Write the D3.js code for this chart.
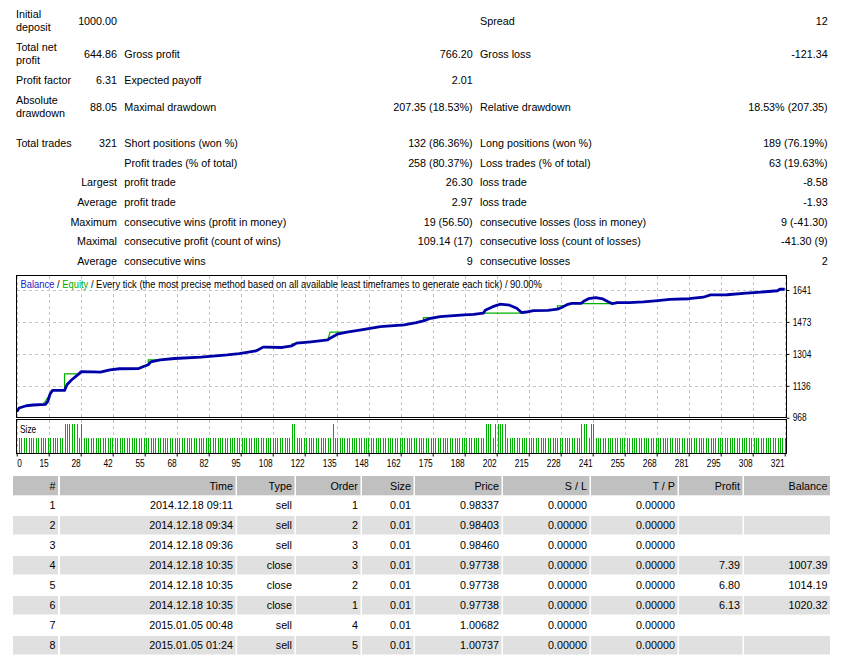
<!DOCTYPE html>
<html>
<head>
<meta charset="utf-8">
<script src="https://cdn.jsdelivr.net/npm/d3@7"></script>
<style>
body { margin: 0; background: #fff; }
svg text { font-family: "Liberation Sans", Arial, sans-serif; font-size: 10.75px; fill: #000; }
svg .chart-text { font-size: 10.2px; }
</style>
</head>
<body>
<svg id="report" width="861" height="655"></svg>
<script>
// summary block, one entry per row: label, value, label, value, label, value
const summaryRows = [
    ["Initial\ndeposit", "1000.00", "", "", "Spread", "12"],
    ["Total net\nprofit", "644.86", "Gross profit", "766.20", "Gross loss", "-121.34"],
    ["Profit factor", "6.31", "Expected payoff", "2.01", "", ""],
    ["Absolute\ndrawdown", "88.05", "Maximal drawdown", "207.35 (18.53%)", "Relative drawdown", "18.53% (207.35)"],
    ["Total trades", "321", "Short positions (won %)", "132 (86.36%)", "Long positions (won %)", "189 (76.19%)"],
    ["", "", "Profit trades (% of total)", "258 (80.37%)", "Loss trades (% of total)", "63 (19.63%)"],
    ["", "Largest", "profit trade", "26.30", "loss trade", "-8.58"],
    ["", "Average", "profit trade", "2.97", "loss trade", "-1.93"],
    ["", "Maximum", "consecutive wins (profit in money)", "19 (56.50)", "consecutive losses (loss in money)", "9 (-41.30)"],
    ["", "Maximal", "consecutive profit (count of wins)", "109.14 (17)", "consecutive loss (count of losses)", "-41.30 (9)"],
    ["", "Average", "consecutive wins", "9", "consecutive losses", "2"]
]

// balance / equity curve (trade number, money)
const balanceTrade = [0, 1, 4, 7, 12, 13, 14, 15, 20, 21, 23, 26, 27, 32, 35, 39, 43, 51, 53, 55, 56, 60, 66, 77, 88, 93, 100, 103, 104, 111, 115, 117, 123, 130, 131, 134, 138, 144, 152, 162, 167, 170, 173, 177, 187, 191, 195, 196, 199, 202, 206, 209, 211, 213, 216, 222, 226, 228, 230, 232, 236, 237, 239, 242, 245, 247, 249, 251, 256, 262, 268, 273, 281, 287, 290, 297, 305, 311, 318, 319, 321]
const balance = [1000, 1019, 1031, 1035, 1038, 1054, 1094, 1112, 1112, 1142, 1168, 1199, 1211, 1210, 1208, 1220, 1226, 1227, 1238, 1247, 1262, 1273, 1280, 1287, 1299, 1306, 1320, 1340, 1340, 1338, 1347, 1361, 1368, 1378, 1387, 1408, 1419, 1431, 1448, 1457, 1469, 1478, 1492, 1501, 1510, 1513, 1519, 1536, 1553, 1566, 1561, 1545, 1522, 1525, 1532, 1534, 1540, 1550, 1564, 1571, 1571, 1582, 1595, 1601, 1594, 1580, 1569, 1574, 1574, 1578, 1585, 1592, 1595, 1603, 1615, 1616, 1624, 1630, 1637, 1646, 1645]
const equityTrade = [0, 1, 4, 7, 11, 12, 14, 15, 20, 20, 26, 27, 32, 35, 39, 43, 51, 53, 55, 55, 60, 66, 77, 88, 93, 100, 103, 111, 115, 115, 117, 123, 130, 131, 138, 144, 152, 162, 167, 170, 170, 173, 177, 187, 191, 195, 211, 213, 216, 222, 226, 226, 230, 230, 232, 236, 249, 251, 256, 262, 268, 273, 281, 287, 290, 297, 305, 311, 318, 319, 321]
const equity = [1000, 1019, 1031, 1035, 1038, 1056, 1094, 1112, 1112, 1199, 1199, 1211, 1210, 1208, 1220, 1226, 1227, 1238, 1247, 1273, 1273, 1280, 1287, 1299, 1306, 1320, 1340, 1338, 1347, 1357, 1361, 1368, 1378, 1419, 1419, 1431, 1448, 1457, 1469, 1478, 1495, 1495, 1501, 1510, 1513, 1519, 1519, 1525, 1532, 1534, 1540, 1558, 1558, 1564, 1571, 1569, 1569, 1574, 1574, 1578, 1585, 1592, 1595, 1603, 1615, 1616, 1624, 1630, 1637, 1646, 1645]

// lot size of trades 1..321
const lotSizes = [
    0.01,0.01,0.01,0.01,0.01,0.01,0.01,0.01,0.01,0.01,0.01,0.01,0.01,0.01,0.01,0.01,0.01,0.01,0.01,0.02,
    0.02,0.02,0.02,0.02,0.02,0.01,0.02,0.01,0.01,0.01,0.01,0.01,0.01,0.01,0.01,0.01,0.01,0.01,0.01,0.01,
    0.01,0.01,0.01,0.01,0.01,0.01,0.01,0.01,0.01,0.01,0.01,0.01,0.01,0.01,0.01,0.01,0.01,0.01,0.01,0.01,
    0.01,0.01,0.01,0.01,0.01,0.01,0.01,0.01,0.01,0.01,0.01,0.01,0.01,0.01,0.01,0.01,0.01,0.01,0.01,0.01,
    0.01,0.01,0.01,0.01,0.01,0.01,0.01,0.01,0.01,0.01,0.01,0.01,0.01,0.01,0.01,0.01,0.01,0.01,0.01,0.01,
    0.01,0.01,0.01,0.01,0.01,0.01,0.01,0.01,0.01,0.01,0.01,0.01,0.01,0.01,0.02,0.02,0.01,0.01,0.01,0.01,
    0.01,0.01,0.01,0.01,0.01,0.01,0.01,0.01,0.01,0.01,0.01,0.02,0.01,0.01,0.01,0.01,0.01,0.01,0.01,0.01,
    0.01,0.01,0.01,0.01,0.01,0.01,0.01,0.01,0.01,0.01,0.01,0.01,0.01,0.01,0.01,0.01,0.01,0.01,0.01,0.01,
    0.01,0.01,0.01,0.01,0.01,0.01,0.01,0.01,0.01,0.01,0.01,0.01,0.01,0.01,0.01,0.01,0.01,0.01,0.01,0.01,
    0.01,0.01,0.01,0.01,0.01,0.01,0.01,0.01,0.01,0.01,0.01,0.01,0.01,0.01,0.01,0.02,0.02,0.02,0.01,0.02,
    0.02,0.02,0.02,0.02,0.01,0.01,0.01,0.01,0.01,0.01,0.01,0.01,0.01,0.01,0.01,0.01,0.01,0.01,0.01,0.01,
    0.01,0.01,0.01,0.01,0.01,0.01,0.01,0.01,0.01,0.01,0.01,0.01,0.01,0.01,0.01,0.02,0.02,0.02,0.01,0.02,
    0.02,0.01,0.01,0.01,0.01,0.01,0.01,0.01,0.01,0.01,0.01,0.01,0.01,0.01,0.01,0.01,0.01,0.01,0.01,0.01,
    0.01,0.01,0.01,0.01,0.01,0.01,0.01,0.01,0.01,0.01,0.01,0.01,0.01,0.01,0.01,0.01,0.01,0.01,0.01,0.01,
    0.01,0.01,0.01,0.01,0.01,0.01,0.01,0.01,0.01,0.01,0.01,0.01,0.01,0.01,0.01,0.01,0.01,0.01,0.01,0.01,
    0.01,0.01,0.01,0.01,0.01,0.01,0.01,0.01,0.01,0.01,0.01,0.01,0.01,0.01,0.01,0.01,0.01,0.01,0.01,0.01,
    0.01
]

const xTickLabels = ["0", "15", "28", "42", "55", "68", "82", "95", "108", "122", "135", "148", "162", "175", "188", "202", "215", "228", "241", "255", "268", "281", "295", "308", "321"]
const yTickValues = [968, 1136, 1304, 1473, 1641]
const totalTrades = 321

// deals table
const tableHeads = ["#", "Time", "Type", "Order", "Size", "Price", "S / L", "T / P", "Profit", "Balance"]
const dealNo = [1, 2, 3, 4, 5, 6, 7, 8]
const dealTime = ["2014.12.18 09:11", "2014.12.18 09:34", "2014.12.18 09:36", "2014.12.18 10:35", "2014.12.18 10:35", "2014.12.18 10:35", "2015.01.05 00:48", "2015.01.05 01:24"]
const dealType = ["sell", "sell", "sell", "close", "close", "close", "sell", "sell"]
const dealOrder = [1, 2, 3, 3, 2, 1, 4, 5]
const dealSize = [0.01, 0.01, 0.01, 0.01, 0.01, 0.01, 0.01, 0.01]
const dealPrice = [0.98337, 0.98403, 0.98460, 0.97738, 0.97738, 0.97738, 1.00682, 1.00737]
const dealSL = [0, 0, 0, 0, 0, 0, 0, 0]
const dealTP = [0, 0, 0, 0, 0, 0, 0, 0]
const dealProfit = [null, null, null, 7.39, 6.80, 6.13, null, null]
const dealBalance = [null, null, null, 1007.39, 1014.19, 1020.32, null, null]

const svg = d3.select("#report")
const narrowDigits = 0.82 // axis digits are narrow in the original face
const narrowText = 0.92   // letters of the chart caption a bit less so

// ---- summary block ----
const colX = [16, 117, 124.3, 472.7, 480, 827.7]
const colAnchor = ["start", "end", "start", "end", "start", "end"]
const rowBase = [25, 57.7, 83.7, 111, 146.7, 166.5, 186.2, 206, 225.5, 245.2, 264.7]

summaryRows.forEach((row, r) => {
    row.forEach((cell, c) => {
        if (!cell) return
        const t = svg.append("text")
            .attr("x", colX[c])
            .attr("y", rowBase[r])
            .attr("text-anchor", colAnchor[c])
        const lines = cell.split("\n")
        if (lines.length == 1) { t.text(cell); return }
        lines.forEach((ln, k) => {
            t.append("tspan").attr("x", colX[c]).attr("y", rowBase[r] - 6.7 + k * 12.5).text(ln)
        })
    })
})

// ---- balance chart ----
const x = d3.scaleLinear().domain([0, totalTrades]).range([16.7, 784.7])
const y = d3.scaleLinear().domain([968, 1641]).range([417.7, 290])
const ySize = d3.scaleLinear().domain([0, 0.02]).range([452.5, 424])
const xTicks = xTickLabels.map((d, i) => i * totalTrades / (xTickLabels.length - 1))

svg.append("clipPath").attr("id", "mainClip")
    .append("rect").attr("x", 17).attr("y", 276).attr("width", 769).attr("height", 141)

const grid = svg.append("g")
    .attr("stroke", "#c4c4c4")
    .attr("stroke-dasharray", "3,3")
    .attr("shape-rendering", "crispEdges")

grid.selectAll(".vmain").data(xTicks).enter().append("line")
    .attr("x1", d => Math.round(x(d)) + 0.5).attr("x2", d => Math.round(x(d)) + 0.5)
    .attr("y1", 276).attr("y2", 417)
grid.selectAll(".vsize").data(xTicks).enter().append("line")
    .attr("x1", d => Math.round(x(d)) + 0.5).attr("x2", d => Math.round(x(d)) + 0.5)
    .attr("y1", 420).attr("y2", 453)
grid.selectAll(".h").data(yTickValues.slice(1)).enter().append("line")
    .attr("x1", 17).attr("x2", 786)
    .attr("y1", d => Math.round(y(d)) + 0.5).attr("y2", d => Math.round(y(d)) + 0.5)

const curve = svg.append("g").attr("clip-path", "url(#mainClip)")

const moneyLine = d3.line().x(d => x(d[0])).y(d => y(d[1]))
curve.append("path")
    .datum(equityTrade.map((t, i) => [t, equity[i]]))
    .attr("d", moneyLine)
    .attr("fill", "none")
    .attr("stroke", "#00b000")
    .attr("stroke-width", 1.2)

curve.append("path")
    .datum(balanceTrade.map((t, i) => [t, balance[i]]))
    .attr("d", moneyLine)
    .attr("fill", "none")
    .attr("stroke", "#0000a8")
    .attr("stroke-width", 2.8)
    .attr("stroke-linejoin", "round")

// size bars
svg.append("g").selectAll("rect")
    .data(lotSizes)
    .enter()
    .append("rect")
    .attr("x", (d, i) => Math.round(x(i + 1)) - 0.5)
    .attr("y", d => ySize(d))
    .attr("width", 1)
    .attr("height", d => ySize(0) - ySize(d))
    .attr("fill", "#00b000")
    .attr("shape-rendering", "crispEdges")

// panel borders
svg.append("rect").attr("x", 16.5).attr("y", 275.5).attr("width", 770).attr("height", 142)
    .attr("fill", "none").attr("stroke", "#000").attr("shape-rendering", "crispEdges")
svg.append("rect").attr("x", 16.5).attr("y", 419.5).attr("width", 770).attr("height", 34)
    .attr("fill", "none").attr("stroke", "#000").attr("shape-rendering", "crispEdges")

// axes
const yAxis = svg.append("g")
    .attr("transform", "translate(786.5,0)")
    .call(d3.axisRight(y).tickValues(yTickValues).tickSize(3).tickPadding(3).tickFormat(d3.format("d")))
yAxis.select(".domain").remove()
yAxis.selectAll("text")
    .attr("class", "chart-text")
    .attr("fill", "#000")
    .attr("x", 6.2 / narrowDigits)
    .attr("transform", `scale(${narrowDigits},1)`)

const xAxis = svg.append("g")
    .attr("transform", "translate(0,453.5)")
    .call(d3.axisBottom(x).tickValues(xTicks).tickSize(3).tickFormat((d, i) => xTickLabels[i]))
xAxis.select(".domain").remove()
xAxis.selectAll("text")
    .attr("class", "chart-text")
    .attr("fill", "#000")
    .attr("text-anchor", (d, i) => i == 0 ? "start" : "end")
    .attr("x", (d, i) => i == 0 ? 0 : -0.5 / narrowDigits)
    .attr("y", 6)
    .attr("transform", `scale(${narrowDigits},1)`)

// chart title
const title = svg.append("text").attr("class", "chart-text")
    .attr("transform", `translate(20.5,287.5) scale(${narrowText},1)`)
title.append("tspan").attr("fill", "#1c1cc8").text("Balance")
title.append("tspan").text(" / ")
title.append("tspan").attr("fill", "#00b000").text("Equity")
title.append("tspan").text(" / Every tick (the most precise method based on all available least timeframes to generate each tick) / 90.00%")

svg.append("text").attr("class", "chart-text")
    .attr("transform", `translate(20,432.7) scale(${narrowDigits},1)`)
    .text("Size")

// ---- deals table ----
const colEdges = [[13, 58], [60, 235.5], [237, 294.5], [296, 360.5], [362, 413.5], [415, 501.5], [503, 589.5], [591, 677.5], [679, 742.5], [744, 830]]
const fmtPrice = d3.format(".5f"), fmtMoney = d3.format(".2f")
const dealCells = dealNo.map((n, i) => [
    String(n), dealTime[i], dealType[i], String(dealOrder[i]), fmtMoney(dealSize[i]),
    fmtPrice(dealPrice[i]), fmtPrice(dealSL[i]), fmtPrice(dealTP[i]),
    dealProfit[i] == null ? "" : fmtMoney(dealProfit[i]),
    dealBalance[i] == null ? "" : fmtMoney(dealBalance[i])
])

const head = svg.append("g")
head.selectAll("rect").data(colEdges).enter().append("rect")
    .attr("x", d => d[0]).attr("y", 476).attr("width", d => d[1] - d[0]).attr("height", 19.3)
    .attr("fill", "#c0c0c0")
head.selectAll("text").data(tableHeads).enter().append("text")
    .attr("x", (d, i) => colEdges[i][1] - 2.6).attr("y", 489.8)
    .attr("text-anchor", "end")
    .text(d => d)

const rows = svg.selectAll(".deal").data(dealCells).enter().append("g")
    .attr("transform", (d, i) => `translate(0,${496 + i * 20})`)
rows.filter((d, i) => i % 2 == 1).selectAll("rect").data(colEdges).enter().append("rect")
    .attr("x", d => d[0]).attr("y", 0).attr("width", d => d[1] - d[0]).attr("height", 18.5)
    .attr("fill", "#e0e0e0")
rows.selectAll("text").data(d => d).enter().append("text")
    .attr("x", (d, i) => colEdges[i][1] - 2.6).attr("y", 13.4)
    .attr("text-anchor", "end")
    .text(d => d)
</script>
</body>
</html>
